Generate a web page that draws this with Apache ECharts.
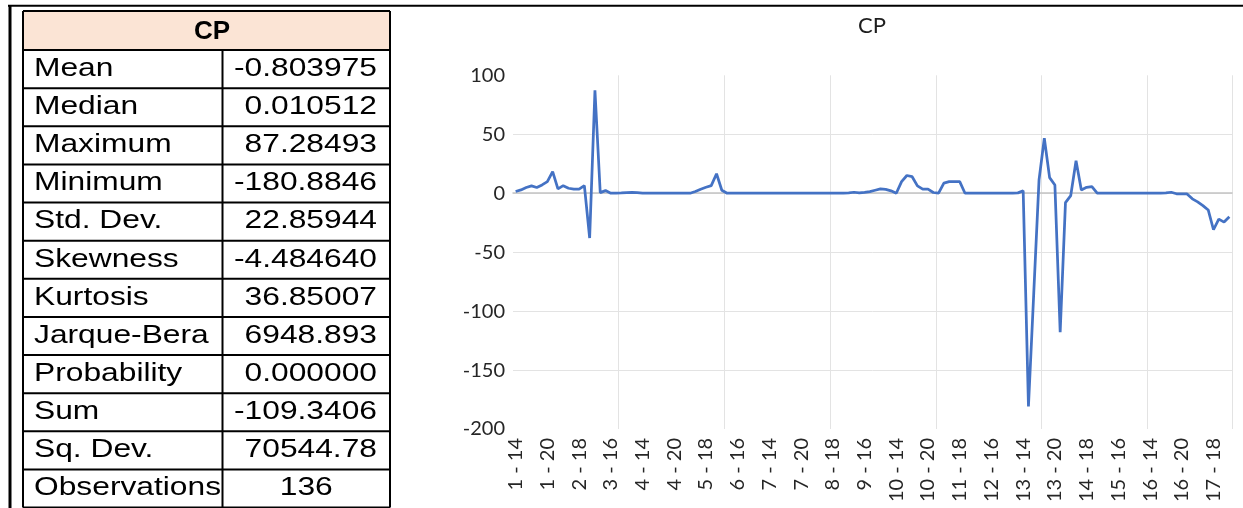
<!DOCTYPE html>
<html>
<head>
<meta charset="utf-8">
<script src="https://cdn.jsdelivr.net/npm/echarts@6/dist/echarts.min.js"></script>
<style>
html,body{margin:0;padding:0;background:#fff;}
#chart{width:1243px;height:508px;}
</style>
</head>
<body>
<div id="chart"></div>
<script>
// ---- data ----
const days = [1,2,3,4,5,6,7,8,9,10,11,12,13,14,15,16,17];
const hours = [14,15,16,17,18,19,20,21];
const cpValues = [
  1.4, 2.8, 4.8, 6.2, 4.8, 7, 9.8, 18.3, 3.6, 6.4, 4.2, 3.4, 3.4, 6.4, -38, 87.28, 0.5, 2.2, 0,
  0, 0.2, 0.5, 0.8, 0.5,
  0, 0, 0, 0, 0, 0, 0, 0, 0, 0,
  1.5, 3.4, 5, 6.4, 16.5, 2.5,
  0, 0, 0, 0, 0, 0, 0, 0, 0, 0, 0, 0, 0, 0, 0, 0, 0, 0, 0, 0, 0, 0, 0,
  0.3, 0.8, 0.2, 0.7, 1.4, 2.5, 3.6, 3.2, 2.0, 0, 9.8, 15, 14, 6.2, 3.4, 3.4, 0.6, 0, 8.5, 9.8, 9.8, 9.8,
  0, 0, 0, 0, 0, 0, 0, 0, 0, 0, 0.3,
  2, -180.88, -85, 11.3, 46.6, 13.2, 7, -117.8, -8, -2, 27.5, 2.8, 5, 5.5,
  0, 0, 0, 0, 0, 0, 0, 0, 0, 0, 0, 0, 0, 0.3,
  0.8, -0.5, -0.5, -0.6, -4.8, -7.4, -10.5, -14.2, -31, -22, -24.5, -20
];
const yTicks = [-200, -150, -100, -50, 0, 50, 100];
const chartTitle = 'CP';
const tableTitle = 'CP';
const statLabels = ['Mean','Median','Maximum','Minimum','Std. Dev.','Skewness','Kurtosis','Jarque-Bera','Probability','Sum','Sq. Dev.','Observations'];
const statValues = ['-0.803975','0.010512','87.28493','-180.8846','22.85944','-4.484640','36.85007','6948.893','0.000000','-109.3406','70544.78','136'];

const categories = [];
days.forEach(d => hours.forEach(h => categories.push(d + ' - ' + h)));

// ---- table graphic ----
const T = {left: 23, right: 390, top: 11, headH: 39, rowH: 38.125, col: 222.5};
const tBottom = T.top + T.headH + T.rowH * statLabels.length;
const g = [];
// outer frame lines of the page
g.push({type:'line', shape:{x1:8, y1:5.7, x2:1243, y2:5.7}, style:{stroke:'#000', lineWidth:2}});
g.push({type:'line', shape:{x1:10, y1:5, x2:10, y2:508}, style:{stroke:'#000', lineWidth:3}});
// header fill
g.push({type:'rect', shape:{x:T.left, y:T.top, width:T.right-T.left, height:T.headH}, style:{fill:'#FBE4D5'}});
// horizontal lines
g.push({type:'line', shape:{x1:T.left, y1:T.top, x2:T.right, y2:T.top}, style:{stroke:'#000', lineWidth:2}});
for (let i = 0; i <= statLabels.length; i++) {
  const y = T.top + T.headH + T.rowH * i;
  g.push({type:'line', shape:{x1:T.left, y1:y, x2:T.right, y2:y}, style:{stroke:'#000', lineWidth:2}});
}
// vertical lines
g.push({type:'line', shape:{x1:T.left, y1:T.top, x2:T.left, y2:tBottom}, style:{stroke:'#000', lineWidth:2}});
g.push({type:'line', shape:{x1:T.right, y1:T.top, x2:T.right, y2:tBottom}, style:{stroke:'#000', lineWidth:2}});
g.push({type:'line', shape:{x1:T.col, y1:T.top+T.headH, x2:T.col, y2:tBottom}, style:{stroke:'#000', lineWidth:2}});
// header text
g.push({type:'text', x:212, y:T.top + T.headH/2 + 1, style:{text:tableTitle, font:'bold 26px "Liberation Sans", Arial, sans-serif', fill:'#000', align:'center', verticalAlign:'middle', textAlign:'center', textVerticalAlign:'middle'}});
const SX = 1.27;
statLabels.forEach((lab, i) => {
  const cy = T.top + T.headH + T.rowH * (i + 0.5);
  g.push({type:'text', x:34, y:cy, scaleX:SX, style:{text:lab, font:'25px "Liberation Sans", Arial, sans-serif', fill:'#000', align:'left', verticalAlign:'middle', textAlign:'left', textVerticalAlign:'middle'}});
  const last = (i === statLabels.length - 1);
  g.push({type:'text', x: last ? (T.col + T.right)/2 : 377, y:cy, scaleX:SX, style:{text:statValues[i], font:'25px "Liberation Sans", Arial, sans-serif', fill:'#000', align: last ? 'center' : 'right', verticalAlign:'middle', textAlign: last ? 'center' : 'right', textVerticalAlign:'middle'}});
});

// ---- chart ----
const chart = echarts.init(document.getElementById('chart'), null, {renderer:'canvas'});
const axisFont = 'Lato';
chart.setOption({
  animation: false,
  backgroundColor: '#fff',
  title: {
    text: chartTitle, left: 867, top: 10, textAlign: 'center',
    textStyle: {fontFamily: axisFont, fontSize: 22, fontWeight: 'normal', color: '#1e1e1e'}
  },
  grid: {left: 513, right: 11, top: 75.3, bottom: 79, containLabel: false, outerBoundsMode: 'none'},
  xAxis: [{
    type: 'category', data: categories, boundaryGap: true,
    axisLine: {show: false, onZero: false}, axisTick: {show: false},
    axisLabel: {interval: 5, rotate: 90, margin: 9, fontFamily: axisFont, fontSize: 20, color: '#262626'},
    splitLine: {show: true, interval: (idx) => idx > 0 && idx % 20 === 0, lineStyle: {color: '#e3e3e3', width: 1}}
  }, {
    type: 'category', data: categories, boundaryGap: true, position: 'bottom',
    axisLine: {show: true, onZero: true, onZeroAxisIndex: 0, lineStyle: {color: '#c4c4c4', width: 1.5}},
    axisTick: {show: false}, axisLabel: {show: false}, splitLine: {show: false}
  }],
  yAxis: {
    type: 'value', min: yTicks[0], max: yTicks[yTicks.length-1], interval: 50,
    axisLine: {show: false}, axisTick: {show: false},
    axisLabel: {margin: 8, fontFamily: axisFont, fontSize: 20, color: '#262626'},
    splitLine: {show: true, showMinLine: false, showMaxLine: false, lineStyle: {color: '#e3e3e3', width: 1}}
  },
  series: [{
    type: 'line', name: 'CP', data: cpValues, xAxisIndex: 0,
    symbol: 'none', lineStyle: {color: '#4472C4', width: 2.75}, itemStyle: {color: '#4472C4'}
  }],
  graphic: {elements: g}
});
</script>
</body>
</html>
